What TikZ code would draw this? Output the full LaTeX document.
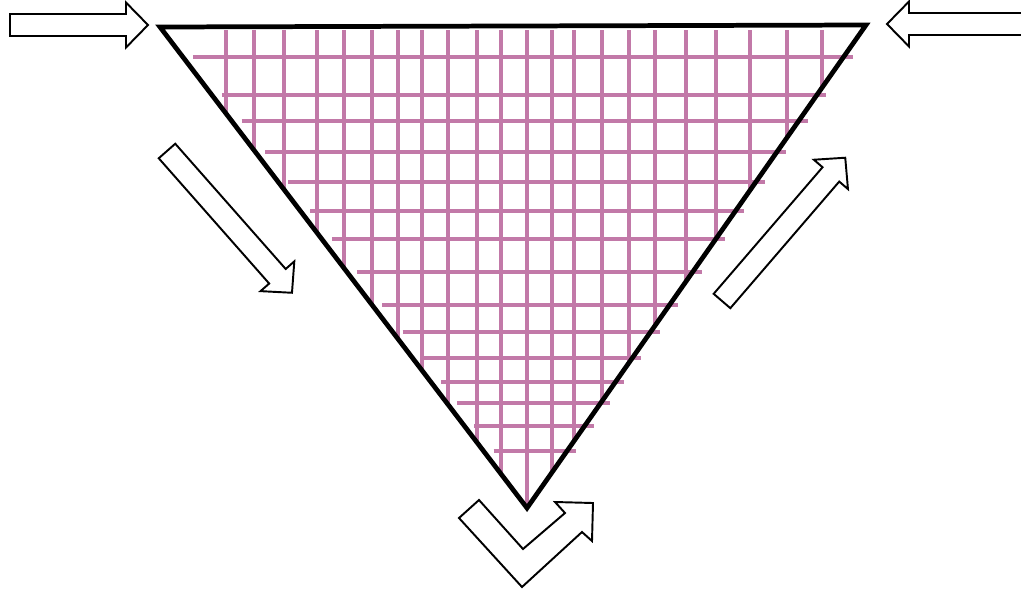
\documentclass[tikz,border=0pt]{standalone}
\usepackage{tikz}
\definecolor{gridpink}{RGB}{194,121,168}

\begin{document}
\begin{tikzpicture}[
    x=0.02cm, y=-0.02cm,
    gridline/.style={draw=gridpink, line width=2pt},
    rim/.style={draw=black, line width=2.7pt, line join=miter},
    arrowline/.style={draw=black, line width=1.1pt, fill=white, line join=miter},
    pics/blockarrow/.style={code={
      \draw[arrowline] (0,-11) -- (#1-22,-11) -- (#1-22,-22.5) -- (#1,0)
        -- (#1-22,22.5) -- (#1-22,11) -- (0,11) -- cycle;
    }}
  ]
    \clip (0,0) rectangle (1021,589);

    \coordinate (tl) at (160,27);
    \coordinate (tr) at (866,25);
    \coordinate (bot) at (527,508);

    \foreach \gx in {226,254,284,317,344,372,398,422,448,477,501,527,
                     552,574,602,629,655,686,716,750,787,822}{
      \pgfmathsetmacro{\gy}{\gx<527 ? 27+(\gx-160)/367*481 : 25+(866-\gx)/339*483}
      \draw[gridline] (\gx,30) -- (\gx,\gy);
    }
    \foreach \hy in {57,95,121,152,182,211,239,272,305,332,358,382,403,426,451}{
      \pgfmathsetmacro{\xa}{160+(\hy-27)/481*367+10}
      \pgfmathsetmacro{\xb}{866-(\hy-25)/483*339+9}
      \draw[gridline] (\xa,\hy) -- (\xb,\hy);
    }

    \draw[rim] (tl) -- (tr) -- (bot) -- cycle;

    \pic at (10,25) {blockarrow=138};
    \pic[rotate=180] at (1040,24) {blockarrow=153};
    \pic[rotate=-48.6] at (167,151) {blockarrow=189};
    \pic[rotate=49.3] at (722,301) {blockarrow=189};

    \draw[arrowline] (479,500) -- (523,549) -- (565,513) -- (555,502) -- (593,503)
      -- (592,541) -- (582,532) -- (522,587) -- (459,518) -- cycle;
  \end{tikzpicture}
\end{document}
